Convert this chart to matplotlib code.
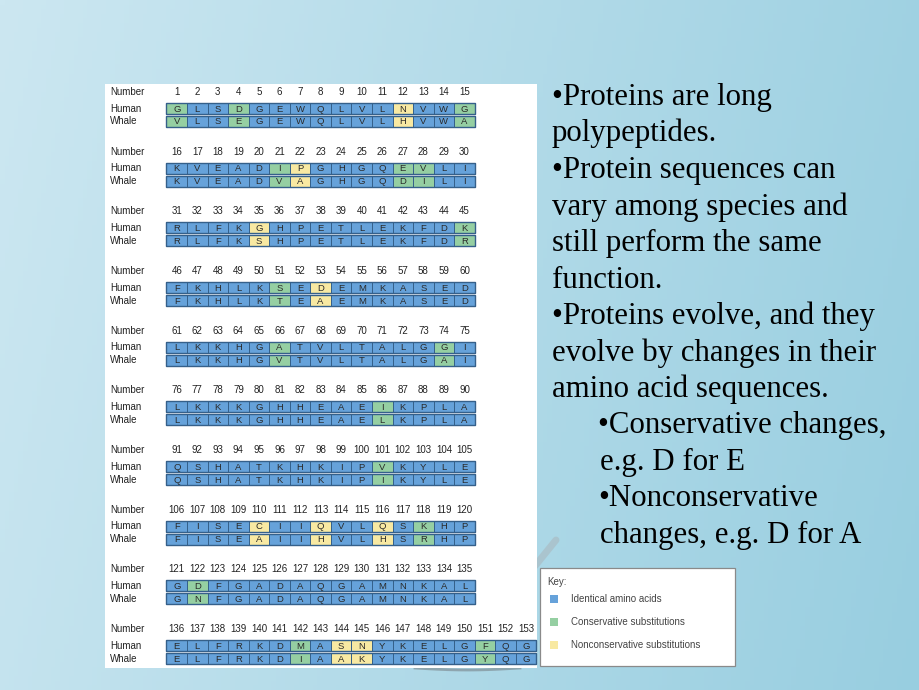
import numpy as np
import matplotlib
matplotlib.use("Agg")
from matplotlib import pyplot as plt
from matplotlib.patches import Rectangle

# alignment data (human vs whale myoglobin-like sequence)
block_sizes = [15, 15, 15, 15, 15, 15, 15, 15, 15, 18]
human = ("GLSDGEWQLVLNVWG" "KVEADIPGHGQEVLI" "RLFKGHPETLEKFDK" "FKHLKSEDEMKASED"
         "LKKHGATVLTALGGI" "LKKKGHHEAEIKPLA" "QSHATKHKIPVKYLE" "FISECIIQVLQSKHP"
         "GDFGADAQGAMNKAL" "ELFRKDMASNYKELGFQG")
whale = ("VLSEGEWQLVLHVWA" "KVEADVAGHGQDILI" "RLFKSHPETLEKFDR" "FKHLKTEAEMKASED"
         "LKKHGVTVLTALGAI" "LKKKGHHEAELKPLA" "QSHATKHKIPIKYLE" "FISEAIIHVLHSRHP"
         "GNFGADAQGAMNKAL" "ELFRKDIAAKYKELGYQG")
conservative = [1, 4, 15, 21, 27, 28, 45, 51, 66, 74, 86, 101, 118, 122, 142, 151]
nonconservative = [12, 22, 35, 53, 110, 113, 116, 144, 145]

key_labels = ["Identical amino acids", "Conservative substitutions",
              "Nonconservative substitutions"]

bullets = [
    ("\u2022Proteins are long", 0),
    ("polypeptides.", 0),
    ("\u2022Protein sequences can", 0),
    ("vary among species and", 0),
    ("still perform the same", 0),
    ("function.", 0),
    ("\u2022Proteins evolve, and they", 0),
    ("evolve by changes in their", 0),
    ("amino acid sequences.", 0),
    ("\u2022Conservative changes,", 1),
    ("e.g. D for E", 2),
    ("\u2022Nonconservative", 1),
    ("changes, e.g. D for A", 2),
]

col_blue = "#66a2da"
col_green = "#95cfa2"
col_yellow = "#f8e9a2"
col_edge = "#35608a"

fig = plt.figure(figsize=(9.2, 6.9), dpi=100)
ax = fig.add_axes([0, 0, 1, 1])
ax.set_xlim(0, 920)
ax.set_ylim(690, 0)
ax.axis("off")

# slide background gradient
gx = np.linspace(0, 1, 200)
gy = np.linspace(0, 1, 150)
GX, GY = np.meshgrid(gx, gy)
c0 = np.array([204, 231, 241]) / 255
c1 = np.array([152, 206, 224]) / 255
t = np.clip(0.85 * GX + 0.15 * GY, 0, 1)[..., None]
bg = c0 * (1 - t) + c1 * t
ax.imshow(bg, extent=[0, 920, 690, 0], aspect="auto", zorder=0)

# faint decorative swoosh
ax.plot([535, 556], [566, 540], color="#a9aeb2", lw=5, alpha=0.45,
        solid_capstyle="round", zorder=1)
ax.plot(np.linspace(415, 520, 30), 668 + 2 * np.sin(np.linspace(0, np.pi, 30)),
        color="#6f7478", lw=2, alpha=0.5, zorder=1)

# white panel behind alignment
ax.add_patch(Rectangle((105, 84), 432, 584, facecolor="white", edgecolor="none", zorder=2))

x0 = 166.5
cw = 20.55
ch = 11.2
block_top = 92.0
block_step = 59.67
lab = dict(fontsize=7, family=["Liberation Sans", "DejaVu Sans"], color="#222222", zorder=5)

pos = 0
for b, n in enumerate(block_sizes):
    yn = block_top + b * block_step
    yh = yn + 16.5
    yw = yn + 29.5
    ax.text(110, yn, "Number", va="center", ha="left", **lab)
    ax.text(110, yh, "Human", va="center", ha="left", **lab)
    ax.text(110, yw, "Whale", va="center", ha="left", **lab)
    idx = np.arange(n)
    xc = x0 + cw * (idx + 0.5)
    nums = np.arange(pos + 1, pos + n + 1)
    colors = []
    for num in nums:
        if num in nonconservative:
            colors.append(col_yellow)
        elif num in conservative:
            colors.append(col_green)
        else:
            colors.append(col_blue)
    for yc, seq in [(yh, human), (yw, whale)]:
        ax.bar(xc, ch, bottom=yc - ch / 2, width=cw, color=colors,
               edgecolor=col_edge, linewidth=0.7, zorder=3)
        ax.add_patch(Rectangle((x0, yc - ch / 2), cw * n, ch, fill=False,
                               edgecolor=col_edge, linewidth=1.0, zorder=4))
        for i in range(n):
            ax.text(xc[i], yc + 0.5, seq[pos + i], ha="center", va="center",
                    fontsize=6.8, family=["Liberation Sans", "DejaVu Sans"],
                    color="#2a2a2a", zorder=5)
    for i in range(n):
        ax.text(xc[i], yn, str(nums[i]), ha="center", va="center", **lab)
    pos += n

# key box
ax.add_patch(Rectangle((540, 568), 195, 98, facecolor="white", edgecolor="#8a8a8a",
                       linewidth=0.9, zorder=2))
ax.text(547, 582, "Key:", ha="left", va="center", fontsize=7,
        family=["Liberation Sans", "DejaVu Sans"], color="#444444", zorder=5)
for k, (lbl, c) in enumerate(zip(key_labels, [col_blue, col_green, col_yellow])):
    yk = 599 + k * 23
    ax.add_patch(Rectangle((550.5, yk - 4), 8, 8, facecolor=c, edgecolor="none", zorder=4))
    ax.text(571, yk, lbl, ha="left", va="center", fontsize=7,
            family=["Liberation Sans", "DejaVu Sans"], color="#444444", zorder=5)

# bullet text on the right
indent_x = [552, 598, 600]
for i, (line, lvl) in enumerate(bullets):
    ax.text(indent_x[lvl], 105 + 36.5 * i, line, ha="left", va="baseline",
            fontsize=22.2, family=["Liberation Serif", "DejaVu Serif"],
            color="black", zorder=5)

plt.savefig("out.png", dpi=100)
